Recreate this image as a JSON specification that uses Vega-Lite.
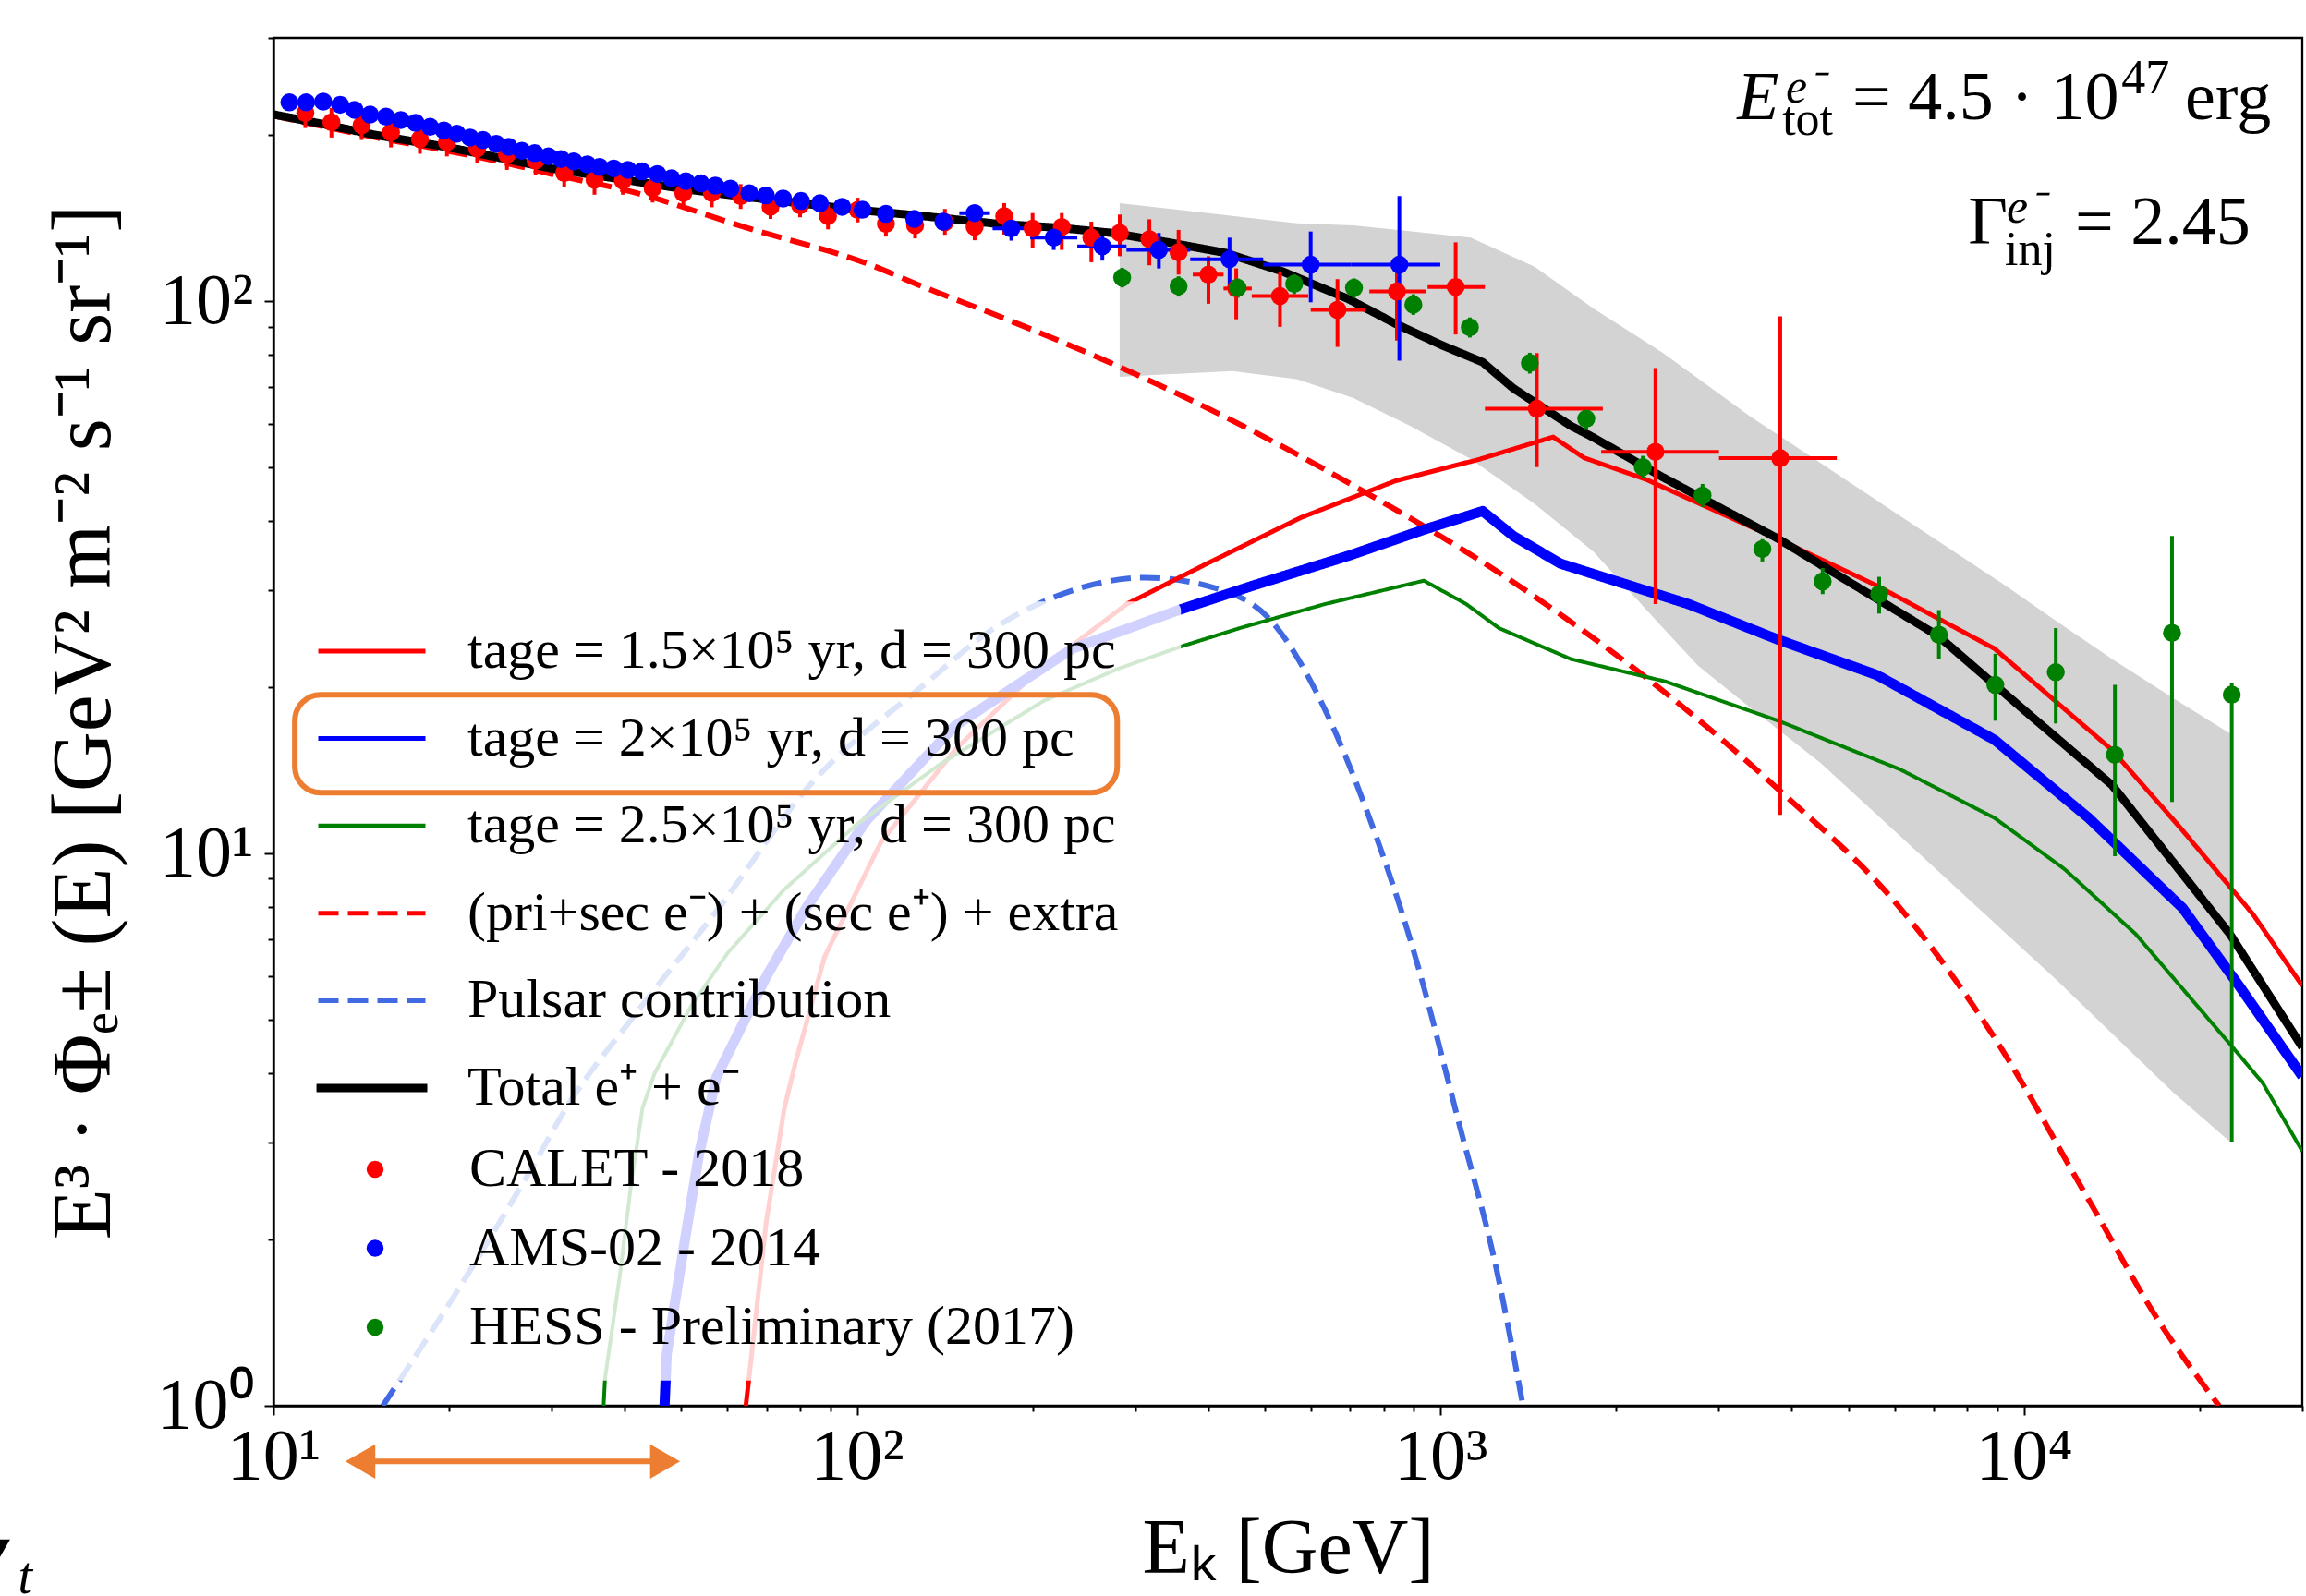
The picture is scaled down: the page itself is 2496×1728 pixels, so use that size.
{
  "$schema": "https://vega.github.io/schema/vega-lite/v6.json",
  "width": 2196,
  "height": 1481,
  "autosize": {"type": "none"},
  "padding": {"left": 296, "top": 41, "right": 4, "bottom": 206},
  "background": "white",
  "config": {
    "view": {"stroke": "#000000", "strokeWidth": 2.3},
    "font": "Liberation Serif",
    "axis": {"grid": false, "domainColor": "#000000", "domainWidth": 2.3, "tickColor": "#000000", "tickWidth": 2, "labelColor": "#000000", "titleColor": "#000000", "labelFont": "Liberation Serif", "titleFont": "Liberation Serif", "titleFontWeight": "normal", "labelFontSize": 78, "titleFontSize": 84, "labelOverlap": false, "labelFlush": false, "labelBound": false},
    "legend": {"labelFont": "Liberation Serif", "labelFontSize": 60, "labelColor": "#000000", "labelLimit": 3000}
  },
  "datasets": {
    "band": [
      {"E": 282, "lo": 73.0, "hi": 150.6}, {"E": 440, "lo": 74.8, "hi": 142.8}, {"E": 567, "lo": 72.3, "hi": 138.5},
      {"E": 708, "lo": 66.9, "hi": 137.3}, {"E": 885, "lo": 59.6, "hi": 134.0}, {"E": 1127, "lo": 51.8, "hi": 130.4},
      {"E": 1450, "lo": 43.0, "hi": 115.5}, {"E": 1829, "lo": 35.2, "hi": 97.1}, {"E": 2408, "lo": 25.6, "hi": 80.6},
      {"E": 2761, "lo": 21.9, "hi": 72.6}, {"E": 3389, "lo": 18.4, "hi": 62.0}, {"E": 4477, "lo": 14.6, "hi": 51.0},
      {"E": 5597, "lo": 11.76, "hi": 43.6}, {"E": 9244, "lo": 7.22, "hi": 30.7}, {"E": 11340, "lo": 5.92, "hi": 26.4},
      {"E": 14160, "lo": 4.72, "hi": 22.5}, {"E": 18040, "lo": 3.69, "hi": 19.1}, {"E": 22540, "lo": 3.01, "hi": 16.5}
    ],
    "smooth": [
      {"s": "d", "E": 10, "F": 217}, {"s": "d", "E": 15, "F": 198}, {"s": "d", "E": 20, "F": 187}, {"s": "d", "E": 25, "F": 178},
      {"s": "d", "E": 30, "F": 170}, {"s": "d", "E": 42, "F": 157}, {"s": "d", "E": 64, "F": 136.4}, {"s": "d", "E": 106, "F": 116.2},
      {"s": "d", "E": 130, "F": 106.2}, {"s": "d", "E": 175, "F": 94}, {"s": "d", "E": 274, "F": 77.1}, {"s": "d", "E": 479, "F": 58.1},
      {"s": "d", "E": 763, "F": 44.4}, {"s": "d", "E": 1213, "F": 33.1}, {"s": "d", "E": 1697, "F": 26.0}, {"s": "d", "E": 2336, "F": 20.2},
      {"s": "d", "E": 3784, "F": 13.1}, {"s": "d", "E": 6138, "F": 7.96}, {"s": "d", "E": 8903, "F": 4.64}, {"s": "d", "E": 12910, "F": 2.36},
      {"s": "d", "E": 17050, "F": 1.42}, {"s": "d", "E": 21600, "F": 1.0},
      {"s": "e", "E": 15.4, "F": 1.0}, {"s": "e", "E": 20.4, "F": 1.58}, {"s": "e", "E": 27, "F": 2.57}, {"s": "e", "E": 32.5, "F": 3.6},
      {"s": "e", "E": 41, "F": 5.0}, {"s": "e", "E": 58, "F": 7.97}, {"s": "e", "E": 82, "F": 13.1}, {"s": "e", "E": 131, "F": 20.3},
      {"s": "e", "E": 172, "F": 25.6}, {"s": "e", "E": 209, "F": 28.6}, {"s": "e", "E": 240, "F": 30.2}, {"s": "e", "E": 312, "F": 31.6},
      {"s": "e", "E": 413, "F": 30.2}, {"s": "e", "E": 516, "F": 26.2}, {"s": "e", "E": 625, "F": 18.8}, {"s": "e", "E": 750, "F": 11.85},
      {"s": "e", "E": 900, "F": 6.65}, {"s": "e", "E": 1080, "F": 3.2}, {"s": "e", "E": 1250, "F": 1.75}, {"s": "e", "E": 1385, "F": 1.0}
    ],
    "kinked": [
      {"s": "a", "E": 64.5, "F": 1.0}, {"s": "a", "E": 65.3, "F": 1.12}, {"s": "a", "E": 69.9, "F": 2.15}, {"s": "a", "E": 75.1, "F": 3.46},
      {"s": "a", "E": 78.5, "F": 4.19}, {"s": "a", "E": 88, "F": 6.5}, {"s": "a", "E": 110, "F": 10.5}, {"s": "a", "E": 148, "F": 15.5},
      {"s": "a", "E": 200, "F": 21}, {"s": "a", "E": 290, "F": 28.3}, {"s": "a", "E": 398, "F": 33.5}, {"s": "a", "E": 577, "F": 40.6},
      {"s": "a", "E": 837, "F": 47.3}, {"s": "a", "E": 1169, "F": 51.8}, {"s": "a", "E": 1560, "F": 56.8}, {"s": "a", "E": 1761, "F": 52.1},
      {"s": "a", "E": 2250, "F": 47.6}, {"s": "a", "E": 3790, "F": 37.1}, {"s": "a", "E": 5598, "F": 30.55}, {"s": "a", "E": 8903, "F": 23.5},
      {"s": "a", "E": 14160, "F": 15.4}, {"s": "a", "E": 18720, "F": 11.0}, {"s": "a", "E": 24700, "F": 7.76}, {"s": "a", "E": 30000, "F": 5.76},
      {"s": "b", "E": 46.8, "F": 1.0}, {"s": "b", "E": 47.2, "F": 1.24}, {"s": "b", "E": 50.5, "F": 1.94}, {"s": "b", "E": 53.6, "F": 2.85},
      {"s": "b", "E": 57.4, "F": 3.93}, {"s": "b", "E": 70, "F": 6.0}, {"s": "b", "E": 82, "F": 8.0}, {"s": "b", "E": 104, "F": 11.5},
      {"s": "b", "E": 147, "F": 17}, {"s": "b", "E": 234, "F": 23.5}, {"s": "b", "E": 356, "F": 27.6}, {"s": "b", "E": 479, "F": 30.6},
      {"s": "b", "E": 695, "F": 34.6}, {"s": "b", "E": 937, "F": 38.6}, {"s": "b", "E": 1181, "F": 41.7}, {"s": "b", "E": 1333, "F": 37.6},
      {"s": "b", "E": 1606, "F": 33.5}, {"s": "b", "E": 2661, "F": 28.3}, {"s": "b", "E": 3790, "F": 24.4}, {"s": "b", "E": 5598, "F": 21.05},
      {"s": "b", "E": 8903, "F": 16.07}, {"s": "b", "E": 12910, "F": 11.6}, {"s": "b", "E": 18720, "F": 7.96}, {"s": "b", "E": 23380, "F": 5.76},
      {"s": "b", "E": 30000, "F": 3.95},
      {"s": "c", "E": 36.8, "F": 1.0}, {"s": "c", "E": 37, "F": 1.12}, {"s": "c", "E": 39.2, "F": 1.71}, {"s": "c", "E": 41, "F": 2.51},
      {"s": "c", "E": 42.9, "F": 3.46}, {"s": "c", "E": 45, "F": 4.0}, {"s": "c", "E": 52, "F": 5.3}, {"s": "c", "E": 60, "F": 6.6},
      {"s": "c", "E": 75, "F": 8.6}, {"s": "c", "E": 100, "F": 11.3}, {"s": "c", "E": 140, "F": 14.6}, {"s": "c", "E": 209, "F": 18.9},
      {"s": "c", "E": 280, "F": 21.6}, {"s": "c", "E": 359, "F": 23.7}, {"s": "c", "E": 453, "F": 25.6}, {"s": "c", "E": 634, "F": 28.3},
      {"s": "c", "E": 937, "F": 31.2}, {"s": "c", "E": 1107, "F": 28.3}, {"s": "c", "E": 1260, "F": 25.6}, {"s": "c", "E": 1673, "F": 22.5},
      {"s": "c", "E": 2427, "F": 20.5}, {"s": "c", "E": 3790, "F": 17.4}, {"s": "c", "E": 6138, "F": 14.2}, {"s": "c", "E": 8903, "F": 11.6},
      {"s": "c", "E": 11740, "F": 9.37}, {"s": "c", "E": 15540, "F": 7.15}, {"s": "c", "E": 22540, "F": 4.52}, {"s": "c", "E": 25670, "F": 3.84},
      {"s": "c", "E": 30000, "F": 2.89},
      {"s": "f", "E": 10, "F": 218}, {"s": "f", "E": 12, "F": 210}, {"s": "f", "E": 15, "F": 200}, {"s": "f", "E": 20, "F": 190},
      {"s": "f", "E": 25, "F": 181}, {"s": "f", "E": 30, "F": 174}, {"s": "f", "E": 40, "F": 166}, {"s": "f", "E": 50, "F": 160},
      {"s": "f", "E": 60, "F": 156}, {"s": "f", "E": 80, "F": 150.5}, {"s": "f", "E": 100, "F": 146.5}, {"s": "f", "E": 130, "F": 142.7},
      {"s": "f", "E": 175, "F": 138.1}, {"s": "f", "E": 220, "F": 136}, {"s": "f", "E": 274, "F": 133}, {"s": "f", "E": 340, "F": 128},
      {"s": "f", "E": 428, "F": 122.4}, {"s": "f", "E": 536, "F": 113.3}, {"s": "f", "E": 695, "F": 101}, {"s": "f", "E": 837, "F": 91.1},
      {"s": "f", "E": 1008, "F": 83.2}, {"s": "f", "E": 1181, "F": 77.6}, {"s": "f", "E": 1333, "F": 69.6}, {"s": "f", "E": 1518, "F": 63.6},
      {"s": "f", "E": 1673, "F": 59.5}, {"s": "f", "E": 1828, "F": 56.7}, {"s": "f", "E": 2408, "F": 48}, {"s": "f", "E": 3000, "F": 42.4},
      {"s": "f", "E": 3784, "F": 37.2}, {"s": "f", "E": 5000, "F": 31.1}, {"s": "f", "E": 7122, "F": 24.8}, {"s": "f", "E": 10000, "F": 18.2},
      {"s": "f", "E": 14160, "F": 13.3}, {"s": "f", "E": 18000, "F": 9.66}, {"s": "f", "E": 22540, "F": 7.15}, {"s": "f", "E": 26000, "F": 5.65},
      {"s": "f", "E": 30000, "F": 4.46}
    ],
    "pts": [
      {"exp": "c", "E": 11.34, "F": 219.3, "lo": 206, "hi": 232}, {"exp": "c", "E": 12.57, "F": 211, "lo": 198, "hi": 224},
      {"exp": "c", "E": 14.16, "F": 208.4, "lo": 196, "hi": 221}, {"exp": "c", "E": 15.9, "F": 202.3, "lo": 190, "hi": 214},
      {"exp": "c", "E": 17.82, "F": 196.7, "lo": 185, "hi": 208}, {"exp": "c", "E": 19.83, "F": 194.2, "lo": 183, "hi": 206},
      {"exp": "c", "E": 22.34, "F": 189.2, "lo": 178, "hi": 200}, {"exp": "c", "E": 25.13, "F": 184.4, "lo": 173, "hi": 195},
      {"exp": "c", "E": 28.13, "F": 179.8, "lo": 169, "hi": 190}, {"exp": "c", "E": 31.5, "F": 170.8, "lo": 161, "hi": 181},
      {"exp": "c", "E": 35.5, "F": 166, "lo": 156, "hi": 176}, {"exp": "c", "E": 39.7, "F": 165.4, "lo": 156, "hi": 175},
      {"exp": "c", "E": 44.65, "F": 160.2, "lo": 151, "hi": 170}, {"exp": "c", "E": 50.4, "F": 157.1, "lo": 148, "hi": 166},
      {"exp": "c", "E": 56.4, "F": 157.1, "lo": 148, "hi": 166}, {"exp": "c", "E": 63.2, "F": 155.1, "lo": 147, "hi": 163},
      {"exp": "c", "E": 71.1, "F": 148.3, "lo": 141, "hi": 156}, {"exp": "c", "E": 79.9, "F": 149.2, "lo": 142, "hi": 157},
      {"exp": "c", "E": 89.2, "F": 142.7, "lo": 135, "hi": 150}, {"exp": "c", "E": 100.3, "F": 146.4, "lo": 139, "hi": 154},
      {"exp": "c", "E": 112.1, "F": 138.1, "lo": 131, "hi": 145}, {"exp": "c", "E": 125.8, "F": 137.3, "lo": 130, "hi": 145},
      {"exp": "c", "E": 141.5, "F": 139.1, "lo": 132, "hi": 147}, {"exp": "c", "E": 159.1, "F": 136.4, "lo": 129, "hi": 144},
      {"exp": "c", "E": 178.8, "F": 142.7, "lo": 132.1, "hi": 150.6}, {"exp": "c", "E": 200, "F": 135.5, "lo": 124.7, "hi": 144.5},
      {"exp": "c", "E": 224.4, "F": 136.4, "lo": 123.9, "hi": 144.5}, {"exp": "c", "E": 252.2, "F": 130.4, "lo": 117.7, "hi": 139.4},
      {"exp": "c", "E": 282.1, "F": 133, "lo": 120.7, "hi": 143.6}, {"exp": "c", "E": 317.1, "F": 129.6, "lo": 116.2, "hi": 140.8},
      {"exp": "c", "E": 355.8, "F": 122.7, "lo": 111.8, "hi": 134.7},
      {"exp": "c", "E": 400.3, "F": 111.8, "lo": 99, "hi": 120.7, "elo": 376.3, "ehi": 424.9},
      {"exp": "c", "E": 446.7, "F": 105.5, "lo": 92.8, "hi": 114.7, "elo": 424.9, "ehi": 474.9},
      {"exp": "c", "E": 530.9, "F": 102.2, "lo": 89.9, "hi": 113.3, "elo": 474.9, "ehi": 593.6},
      {"exp": "c", "E": 666.1, "F": 96.5, "lo": 82.7, "hi": 109.7, "elo": 599.3, "ehi": 742},
      {"exp": "c", "E": 842.2, "F": 104.2, "lo": 84.9, "hi": 114.7, "elo": 755.5, "ehi": 945},
      {"exp": "c", "E": 1062, "F": 106.2, "lo": 87.1, "hi": 127.9, "elo": 950.6, "ehi": 1192},
      {"exp": "c", "E": 1463, "F": 63.9, "lo": 50.1, "hi": 80.6, "elo": 1192, "ehi": 1898},
      {"exp": "c", "E": 2336, "F": 53.4, "lo": 28.3, "hi": 75.7, "elo": 1886, "ehi": 3002},
      {"exp": "c", "E": 3823, "F": 52.0, "lo": 11.75, "hi": 93.9, "elo": 3002, "ehi": 4778},
      {"exp": "a", "E": 10.65, "F": 229.3}, {"exp": "a", "E": 11.38, "F": 229.3}, {"exp": "a", "E": 12.17, "F": 230},
      {"exp": "a", "E": 13.01, "F": 227}, {"exp": "a", "E": 13.77, "F": 222.2}, {"exp": "a", "E": 14.64, "F": 217.9},
      {"exp": "a", "E": 15.59, "F": 216}, {"exp": "a", "E": 16.53, "F": 213}, {"exp": "a", "E": 17.52, "F": 210.5},
      {"exp": "a", "E": 18.55, "F": 207}, {"exp": "a", "E": 19.59, "F": 204}, {"exp": "a", "E": 20.62, "F": 201.2},
      {"exp": "a", "E": 21.72, "F": 198}, {"exp": "a", "E": 22.86, "F": 196}, {"exp": "a", "E": 24.09, "F": 192.9},
      {"exp": "a", "E": 25.29, "F": 190.5}, {"exp": "a", "E": 26.65, "F": 187.3}, {"exp": "a", "E": 28.04, "F": 185.5},
      {"exp": "a", "E": 29.6, "F": 183}, {"exp": "a", "E": 31.1, "F": 181}, {"exp": "a", "E": 32.7, "F": 179.3},
      {"exp": "a", "E": 34.5, "F": 177}, {"exp": "a", "E": 36.2, "F": 175.2}, {"exp": "a", "E": 38.3, "F": 174},
      {"exp": "a", "E": 40.5, "F": 173}, {"exp": "a", "E": 42.8, "F": 171.9}, {"exp": "a", "E": 45.5, "F": 170},
      {"exp": "a", "E": 48.1, "F": 167}, {"exp": "a", "E": 50.9, "F": 165}, {"exp": "a", "E": 54, "F": 163.5},
      {"exp": "a", "E": 57.2, "F": 162}, {"exp": "a", "E": 60.7, "F": 160}, {"exp": "a", "E": 65.4, "F": 157},
      {"exp": "a", "E": 69.8, "F": 155.5}, {"exp": "a", "E": 74.7, "F": 153.5}, {"exp": "a", "E": 80.2, "F": 152},
      {"exp": "a", "E": 86.4, "F": 150.5}, {"exp": "a", "E": 94.3, "F": 148.3}, {"exp": "a", "E": 102.2, "F": 146.5},
      {"exp": "a", "E": 112.1, "F": 144}, {"exp": "a", "E": 125.4, "F": 141}, {"exp": "a", "E": 140.7, "F": 139.4},
      {"exp": "a", "E": 159.1, "F": 144.5, "lo": 143, "hi": 146, "elo": 149.8, "ehi": 169},
      {"exp": "a", "E": 183.9, "F": 135.5, "lo": 128.8, "hi": 140.8, "elo": 170.8, "ehi": 198.2},
      {"exp": "a", "E": 217.4, "F": 130.4, "lo": 123.9, "hi": 134.9, "elo": 198.2, "ehi": 238.6},
      {"exp": "a", "E": 263.4, "F": 125.8, "lo": 118.5, "hi": 131.5, "elo": 238.6, "ehi": 289.7},
      {"exp": "a", "E": 329.2, "F": 123.9, "lo": 114.7, "hi": 133, "elo": 289.7, "ehi": 372.5},
      {"exp": "a", "E": 435.1, "F": 119.2, "lo": 105.5, "hi": 130.4, "elo": 372.5, "ehi": 496.8},
      {"exp": "a", "E": 599.3, "F": 116.5, "lo": 99.6, "hi": 133.8, "elo": 496.8, "ehi": 702.5},
      {"exp": "a", "E": 850.3, "F": 116.5, "lo": 78.1, "hi": 155.1, "elo": 702.5, "ehi": 999.4},
      {"exp": "h", "E": 284.8, "F": 110.4, "lo": 106, "hi": 115}, {"exp": "h", "E": 355.8, "F": 106.5, "lo": 102, "hi": 111},
      {"exp": "h", "E": 449.2, "F": 105.8, "lo": 101.5, "hi": 110}, {"exp": "h", "E": 561.5, "F": 107.6, "lo": 103, "hi": 112},
      {"exp": "h", "E": 710.9, "F": 105.8, "lo": 101.5, "hi": 110}, {"exp": "h", "E": 898.7, "F": 98.6, "lo": 94.5, "hi": 103},
      {"exp": "h", "E": 1123, "F": 89.7, "lo": 86, "hi": 93.5}, {"exp": "h", "E": 1423, "F": 77.3, "lo": 74, "hi": 80.7},
      {"exp": "h", "E": 1778, "F": 61.3, "lo": 58.5, "hi": 64.2}, {"exp": "h", "E": 2223, "F": 50.1, "lo": 47.8, "hi": 52.5},
      {"exp": "h", "E": 2813, "F": 44.5, "lo": 42.4, "hi": 46.7}, {"exp": "h", "E": 3562, "F": 35.6, "lo": 33.8, "hi": 37.1},
      {"exp": "h", "E": 4519, "F": 31.1, "lo": 29.5, "hi": 32.9}, {"exp": "h", "E": 5648, "F": 29.5, "lo": 27.2, "hi": 31.7},
      {"exp": "h", "E": 7150, "F": 24.9, "lo": 22.5, "hi": 27.6}, {"exp": "h", "E": 8934, "F": 20.2, "lo": 17.4, "hi": 23.0},
      {"exp": "h", "E": 11340, "F": 21.3, "lo": 17.2, "hi": 25.6}, {"exp": "h", "E": 14320, "F": 15.1, "lo": 9.89, "hi": 20.2},
      {"exp": "h", "E": 17940, "F": 25.1, "lo": 12.4, "hi": 37.6}, {"exp": "h", "E": 22710, "F": 19.4, "lo": 3.01, "hi": 20.4}
    ]
  },
  "layer": [
    {
      "data": {"name": "band"},
      "mark": {"type": "area", "color": "#d3d3d3", "opacity": 1, "clip": true},
      "encoding": {
        "x": {"field": "E", "type": "quantitative", "scale": {"type": "log", "domain": [10, 30000], "nice": false},
          "axis": {"title": "Eₖ [GeV]", "values": [10,20,30,40,50,60,70,80,90,100,200,300,400,500,600,700,800,900,1000,2000,3000,4000,5000,6000,7000,8000,9000,10000,20000,30000],
            "labelExpr": "datum.value == 10 ? '10¹' : datum.value == 100 ? '10²' : datum.value == 1000 ? '10³' : datum.value == 10000 ? '10⁴' : ''",
            "tickSize": {"condition": {"test": "datum.value == 10 || datum.value == 100 || datum.value == 1000 || datum.value == 10000", "value": 10}, "value": 6},
            "labelPadding": 6, "titleY": 180, "titleBaseline": "alphabetic"}},
        "y": {"field": "lo", "type": "quantitative", "scale": {"type": "log", "domain": [1, 300], "nice": false},
          "axis": {"title": "E³ · Φₑ± (E) [GeV² m⁻² s⁻¹ sr⁻¹]", "titleFontSize": 90, "values": [1,2,3,4,5,6,7,8,9,10,20,30,40,50,60,70,80,90,100,200,300],
            "labelExpr": "datum.value == 1 ? '10⁰' : datum.value == 10 ? '10¹' : datum.value == 100 ? '10²' : ''",
            "tickSize": {"condition": {"test": "datum.value == 1 || datum.value == 10 || datum.value == 100", "value": 10}, "value": 6},
            "labelPadding": 12, "titleX": -178, "titleBaseline": "alphabetic", "titleAngle": 270}},
        "y2": {"field": "hi"}
      }
    },
    {
      "data": {"name": "smooth"},
      "mark": {"type": "line", "clip": true, "strokeCap": "butt", "strokeJoin": "round", "interpolate": "monotone"},
      "encoding": {
        "x": {"field": "E", "type": "quantitative", "scale": {"type": "log", "domain": [10, 30000], "nice": false}},
        "y": {"field": "F", "type": "quantitative", "scale": {"type": "log", "domain": [1, 300], "nice": false}},
        "stroke": {"field": "s", "type": "nominal",
          "scale": {"domain": ["a","b","c","d","e","f"], "range": ["#ff0000","#0000ff","#008000","#ff0000","#4169e1","#000000"]},
          "legend": {"orient": "none", "legendX": 46, "legendY": 644, "title": null, "symbolType": "stroke", "symbolSize": 13456, "symbolStrokeWidth": 5,
            "clipHeight": 40, "rowPadding": 34.6, "labelOffset": 43, "padding": 0, "labelFontSize": 60,
            "labelExpr": "datum.value == 'a' ? 'tage = 1.5×10⁵ yr, d = 300 pc' : datum.value == 'b' ? 'tage = 2×10⁵ yr, d = 300 pc' : datum.value == 'c' ? 'tage = 2.5×10⁵ yr, d = 300 pc' : datum.value == 'd' ? '(pri+sec e⁻) + (sec e⁺) + extra' : datum.value == 'e' ? 'Pulsar contribution' : 'Total e⁺ + e⁻'"}},
        "strokeDash": {"field": "s", "type": "nominal",
          "scale": {"domain": ["a","b","c","d","e","f"], "range": [[1,0],[1,0],[1,0],[22,10],[22,10],[1,0]]},
          "legend": {"orient": "none", "legendX": 46, "legendY": 644, "title": null, "symbolType": "stroke", "symbolSize": 13456, "symbolStrokeWidth": 5,
            "clipHeight": 40, "rowPadding": 34.6, "labelOffset": 43, "padding": 0, "labelFontSize": 60,
            "labelExpr": "datum.value == 'a' ? 'tage = 1.5×10⁵ yr, d = 300 pc' : datum.value == 'b' ? 'tage = 2×10⁵ yr, d = 300 pc' : datum.value == 'c' ? 'tage = 2.5×10⁵ yr, d = 300 pc' : datum.value == 'd' ? '(pri+sec e⁻) + (sec e⁺) + extra' : datum.value == 'e' ? 'Pulsar contribution' : 'Total e⁺ + e⁻'"}},
        "strokeWidth": {"field": "s", "type": "nominal", "scale": {"type": "ordinal", "domain": ["f","e","d","c","b","a"], "range": [9, 6, 6, 4, 11, 5]}, "legend": null}
      }
    },
    {
      "data": {"name": "kinked"},
      "mark": {"type": "line", "clip": true, "strokeCap": "butt", "strokeJoin": "round", "interpolate": "linear"},
      "encoding": {
        "x": {"field": "E", "type": "quantitative", "scale": {"type": "log", "domain": [10, 30000], "nice": false}},
        "y": {"field": "F", "type": "quantitative", "scale": {"type": "log", "domain": [1, 300], "nice": false}},
        "stroke": {"field": "s", "type": "nominal",
          "scale": {"domain": ["a","b","c","d","e","f"], "range": ["#ff0000","#0000ff","#008000","#ff0000","#4169e1","#000000"]},
          "legend": {"orient": "none", "legendX": 46, "legendY": 644, "title": null, "symbolType": "stroke", "symbolSize": 13456, "symbolStrokeWidth": 5,
            "clipHeight": 40, "rowPadding": 34.6, "labelOffset": 43, "padding": 0, "labelFontSize": 60,
            "labelExpr": "datum.value == 'a' ? 'tage = 1.5×10⁵ yr, d = 300 pc' : datum.value == 'b' ? 'tage = 2×10⁵ yr, d = 300 pc' : datum.value == 'c' ? 'tage = 2.5×10⁵ yr, d = 300 pc' : datum.value == 'd' ? '(pri+sec e⁻) + (sec e⁺) + extra' : datum.value == 'e' ? 'Pulsar contribution' : 'Total e⁺ + e⁻'"}},
        "strokeDash": {"field": "s", "type": "nominal",
          "scale": {"domain": ["a","b","c","d","e","f"], "range": [[1,0],[1,0],[1,0],[22,10],[22,10],[1,0]]},
          "legend": {"orient": "none", "legendX": 46, "legendY": 644, "title": null, "symbolType": "stroke", "symbolSize": 13456, "symbolStrokeWidth": 5,
            "clipHeight": 40, "rowPadding": 34.6, "labelOffset": 43, "padding": 0, "labelFontSize": 60,
            "labelExpr": "datum.value == 'a' ? 'tage = 1.5×10⁵ yr, d = 300 pc' : datum.value == 'b' ? 'tage = 2×10⁵ yr, d = 300 pc' : datum.value == 'c' ? 'tage = 2.5×10⁵ yr, d = 300 pc' : datum.value == 'd' ? '(pri+sec e⁻) + (sec e⁺) + extra' : datum.value == 'e' ? 'Pulsar contribution' : 'Total e⁺ + e⁻'"}},
        "strokeWidth": {"field": "s", "type": "nominal", "scale": {"type": "ordinal", "domain": ["f","e","d","c","b","a"], "range": [9, 6, 6, 4, 11, 5]}, "legend": null}
      }
    },
    {
      "data": {"name": "pts"},
      "transform": [{"filter": "isValid(datum.lo)"}],
      "mark": {"type": "rule", "strokeWidth": 4, "clip": true},
      "encoding": {
        "x": {"field": "E", "type": "quantitative", "scale": {"type": "log", "domain": [10, 30000], "nice": false}},
        "y": {"field": "lo", "type": "quantitative", "scale": {"type": "log", "domain": [1, 300], "nice": false}},
        "y2": {"field": "hi"},
        "color": {"field": "exp", "type": "nominal", "scale": {"domain": ["h","c","a"], "range": ["#008000","#ff0000","#0000ff"]}, "legend": null}
      }
    },
    {
      "data": {"name": "pts"},
      "transform": [{"filter": "isValid(datum.elo)"}],
      "mark": {"type": "rule", "strokeWidth": 4, "clip": true},
      "encoding": {
        "x": {"field": "elo", "type": "quantitative", "scale": {"type": "log", "domain": [10, 30000], "nice": false}},
        "x2": {"field": "ehi"},
        "y": {"field": "F", "type": "quantitative", "scale": {"type": "log", "domain": [1, 300], "nice": false}},
        "color": {"field": "exp", "type": "nominal", "scale": {"domain": ["h","c","a"], "range": ["#008000","#ff0000","#0000ff"]}, "legend": null}
      }
    },
    {
      "data": {"name": "pts"},
      "mark": {"type": "circle", "size": 380, "opacity": 1, "clip": true},
      "encoding": {
        "x": {"field": "E", "type": "quantitative", "scale": {"type": "log", "domain": [10, 30000], "nice": false}},
        "y": {"field": "F", "type": "quantitative", "scale": {"type": "log", "domain": [1, 300], "nice": false}},
        "fill": {"field": "exp", "type": "nominal", "scale": {"domain": ["c","a","h"], "range": ["#ff0000","#0000ff","#008000"]},
          "legend": {"orient": "none", "legendX": 80, "legendY": 1205, "title": null, "symbolType": "circle", "symbolSize": 340,
            "clipHeight": 40, "rowPadding": 25.5, "labelOffset": 72, "padding": 0, "labelFontSize": 60,
            "labelExpr": "datum.value == 'c' ? 'CALET - 2018' : datum.value == 'a' ? 'AMS-02 - 2014' : 'HESS - Preliminary (2017)'"}}
      }
    },
    {
      "data": {"values": [{}]},
      "mark": {"type": "rect", "color": "#ffffff", "opacity": 0.82, "cornerRadius": 10, "clip": false},
      "encoding": {
        "x": {"datum": 10.85, "type": "quantitative", "scale": {"type": "log", "domain": [10, 30000], "nice": false}},
        "x2": {"datum": 359.2},
        "y": {"datum": 1.111, "type": "quantitative", "scale": {"type": "log", "domain": [1, 300], "nice": false}},
        "y2": {"datum": 28.6}
      }
    },
    {
      "data": {"values": [{}]},
      "mark": {"type": "rule", "color": "#000000", "strokeWidth": 9, "strokeCap": "butt", "clip": false},
      "encoding": {
        "x": {"datum": 11.85, "type": "quantitative", "scale": {"type": "log", "domain": [10, 30000], "nice": false}},
        "x2": {"datum": 18.35},
        "y": {"datum": 3.763, "type": "quantitative", "scale": {"type": "log", "domain": [1, 300], "nice": false}}
      }
    },
    {
      "data": {"values": [{}]},
      "mark": {"type": "rect", "filled": false, "color": "#ed7d31", "strokeWidth": 6, "cornerRadius": 28, "clip": false},
      "encoding": {
        "x": {"datum": 10.88, "type": "quantitative", "scale": {"type": "log", "domain": [10, 30000], "nice": false}},
        "x2": {"datum": 279.3},
        "y": {"datum": 12.89, "type": "quantitative", "scale": {"type": "log", "domain": [1, 300], "nice": false}},
        "y2": {"datum": 19.39}
      }
    },
    {
      "data": {"values": [{}]},
      "mark": {"type": "rule", "color": "#ed7d31", "strokeWidth": 6, "clip": false},
      "encoding": {
        "x": {"datum": 14.09, "type": "quantitative", "scale": {"type": "log", "domain": [10, 30000], "nice": false}},
        "x2": {"datum": 46.9},
        "y": {"datum": 0.7926, "type": "quantitative", "scale": {"type": "log", "domain": [1, 300], "nice": false}}
      }
    },
    {
      "data": {"values": [{}]},
      "mark": {"type": "point", "shape": "triangle-left", "filled": true, "size": 1400, "color": "#ed7d31", "opacity": 1, "clip": false},
      "encoding": {
        "x": {"datum": 14.09, "type": "quantitative", "scale": {"type": "log", "domain": [10, 30000], "nice": false}},
        "y": {"datum": 0.7926, "type": "quantitative", "scale": {"type": "log", "domain": [1, 300], "nice": false}}
      }
    },
    {
      "data": {"values": [{}]},
      "mark": {"type": "point", "shape": "triangle-right", "filled": true, "size": 1400, "color": "#ed7d31", "opacity": 1, "clip": false},
      "encoding": {
        "x": {"datum": 46.9, "type": "quantitative", "scale": {"type": "log", "domain": [10, 30000], "nice": false}},
        "y": {"datum": 0.7926, "type": "quantitative", "scale": {"type": "log", "domain": [1, 300], "nice": false}}
      }
    },
    {
      "data": {"values": [{}]},
      "mark": {"type": "text", "text": "E", "font": "Liberation Serif", "fontSize": 74, "fontStyle": "italic", "align": "left", "baseline": "alphabetic", "color": "#000000"},
      "encoding": {
        "x": {"datum": 3224, "type": "quantitative", "scale": {"type": "log", "domain": [10, 30000], "nice": false}},
        "y": {"datum": 213.8, "type": "quantitative", "scale": {"type": "log", "domain": [1, 300], "nice": false}}
      }
    },
    {
      "data": {"values": [{}]},
      "mark": {"type": "text", "text": "e⁻", "font": "Liberation Serif", "fontSize": 52, "fontStyle": "italic", "align": "left", "baseline": "alphabetic", "color": "#000000"},
      "encoding": {
        "x": {"datum": 3910, "type": "quantitative", "scale": {"type": "log", "domain": [10, 30000], "nice": false}},
        "y": {"datum": 229.4, "type": "quantitative", "scale": {"type": "log", "domain": [1, 300], "nice": false}}
      }
    },
    {
      "data": {"values": [{}]},
      "mark": {"type": "text", "text": "tot", "font": "Liberation Serif", "fontSize": 52, "align": "left", "baseline": "alphabetic", "color": "#000000"},
      "encoding": {
        "x": {"datum": 3854, "type": "quantitative", "scale": {"type": "log", "domain": [10, 30000], "nice": false}},
        "y": {"datum": 200.5, "type": "quantitative", "scale": {"type": "log", "domain": [1, 300], "nice": false}}
      }
    },
    {
      "data": {"values": [{}]},
      "mark": {"type": "text", "text": "= 4.5 · 10", "font": "Liberation Serif", "fontSize": 74, "align": "left", "baseline": "alphabetic", "color": "#000000"},
      "encoding": {
        "x": {"datum": 5084, "type": "quantitative", "scale": {"type": "log", "domain": [10, 30000], "nice": false}},
        "y": {"datum": 213.8, "type": "quantitative", "scale": {"type": "log", "domain": [1, 300], "nice": false}}
      }
    },
    {
      "data": {"values": [{}]},
      "mark": {"type": "text", "text": "47", "font": "Liberation Serif", "fontSize": 52, "align": "left", "baseline": "alphabetic", "color": "#000000"},
      "encoding": {
        "x": {"datum": 14690, "type": "quantitative", "scale": {"type": "log", "domain": [10, 30000], "nice": false}},
        "y": {"datum": 238.4, "type": "quantitative", "scale": {"type": "log", "domain": [1, 300], "nice": false}}
      }
    },
    {
      "data": {"values": [{}]},
      "mark": {"type": "text", "text": "erg", "font": "Liberation Serif", "fontSize": 74, "align": "left", "baseline": "alphabetic", "color": "#000000"},
      "encoding": {
        "x": {"datum": 18880, "type": "quantitative", "scale": {"type": "log", "domain": [10, 30000], "nice": false}},
        "y": {"datum": 213.8, "type": "quantitative", "scale": {"type": "log", "domain": [1, 300], "nice": false}}
      }
    },
    {
      "data": {"values": [{}]},
      "mark": {"type": "text", "text": "Γ", "font": "Liberation Serif", "fontSize": 74, "align": "left", "baseline": "alphabetic", "color": "#000000"},
      "encoding": {
        "x": {"datum": 8020, "type": "quantitative", "scale": {"type": "log", "domain": [10, 30000], "nice": false}},
        "y": {"datum": 127.2, "type": "quantitative", "scale": {"type": "log", "domain": [1, 300], "nice": false}}
      }
    },
    {
      "data": {"values": [{}]},
      "mark": {"type": "text", "text": "e⁻", "font": "Liberation Serif", "fontSize": 52, "fontStyle": "italic", "align": "left", "baseline": "alphabetic", "color": "#000000"},
      "encoding": {
        "x": {"datum": 9346, "type": "quantitative", "scale": {"type": "log", "domain": [10, 30000], "nice": false}},
        "y": {"datum": 139.1, "type": "quantitative", "scale": {"type": "log", "domain": [1, 300], "nice": false}}
      }
    },
    {
      "data": {"values": [{}]},
      "mark": {"type": "text", "text": "inj", "font": "Liberation Serif", "fontSize": 52, "align": "left", "baseline": "alphabetic", "color": "#000000"},
      "encoding": {
        "x": {"datum": 9277, "type": "quantitative", "scale": {"type": "log", "domain": [10, 30000], "nice": false}},
        "y": {"datum": 116.2, "type": "quantitative", "scale": {"type": "log", "domain": [1, 300], "nice": false}}
      }
    },
    {
      "data": {"values": [{}]},
      "mark": {"type": "text", "text": "= 2.45", "font": "Liberation Serif", "fontSize": 74, "align": "left", "baseline": "alphabetic", "color": "#000000"},
      "encoding": {
        "x": {"datum": 12240, "type": "quantitative", "scale": {"type": "log", "domain": [10, 30000], "nice": false}},
        "y": {"datum": 127.2, "type": "quantitative", "scale": {"type": "log", "domain": [1, 300], "nice": false}}
      }
    },
    {
      "data": {"values": [{}]},
      "mark": {"type": "text", "text": "t", "font": "Liberation Serif", "fontSize": 56, "fontStyle": "italic", "align": "left", "baseline": "alphabetic", "color": "#000000", "clip": false},
      "encoding": {
        "x": {"datum": 3.65, "type": "quantitative", "scale": {"type": "log", "domain": [10, 30000], "nice": false}},
        "y": {"datum": 0.4584, "type": "quantitative", "scale": {"type": "log", "domain": [1, 300], "nice": false}}
      }
    },
    {
      "data": {"values": [{}]},
      "mark": {"type": "point", "shape": "triangle-right", "filled": true, "size": 500, "color": "#000000", "opacity": 1, "clip": false, "angle": -30},
      "encoding": {
        "x": {"datum": 3.43, "type": "quantitative", "scale": {"type": "log", "domain": [10, 30000], "nice": false}},
        "y": {"datum": 0.562, "type": "quantitative", "scale": {"type": "log", "domain": [1, 300], "nice": false}}
      }
    }
  ]
}
